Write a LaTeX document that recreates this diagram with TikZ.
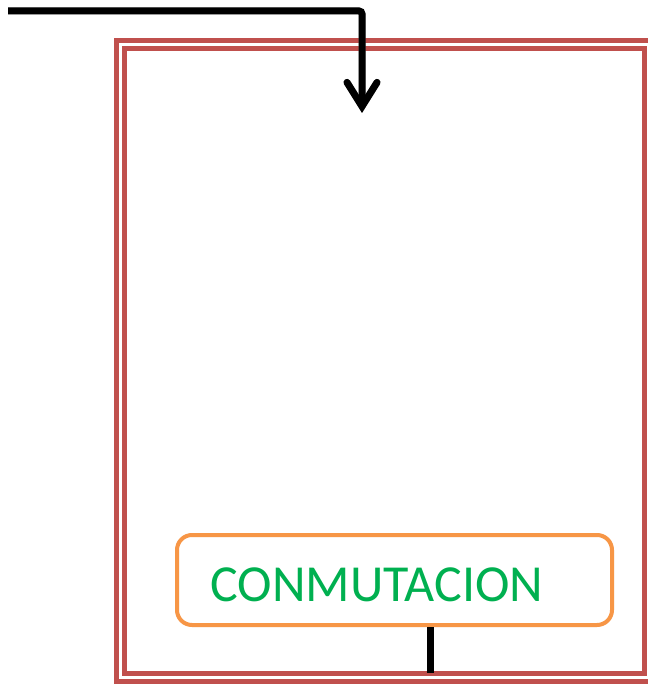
\documentclass[tikz,border=0pt]{standalone}
\usepackage{fontspec}
\setmainfont{Carlito}
\usetikzlibrary{arrows.meta}
\definecolor{boxred}{HTML}{C0504D}
\definecolor{boxorange}{HTML}{F79646}
\definecolor{textgreen}{HTML}{00B050}
\tikzset{
  frame/.style={draw=boxred, line width=5, fill=none},
  blockbox/.style={draw=boxorange, line width=4, rounded corners=15, fill=white, minimum width=435, minimum height=90, inner sep=0},
  blocktext/.style={text=textgreen, font=\fontsize{52}{52}\selectfont, inner sep=0, anchor=base},
  wire/.style={draw=black, line width=7},
  wireshadow/.style={draw=black!35, line width=7, opacity=0.5}
}
\begin{document}
\begin{tikzpicture}[x=1pt,y=-1pt]
\useasboundingbox (0,0) rectangle (647,684);
\fill[white] (0,0) rectangle (647,684);
% frames
\draw[frame] (116,41) rectangle (665,681);
\draw[frame] (124,49) rectangle (644,673);
% block
\node[blockbox] (conm) at (394.5,580) {};
\node[blocktext] (conmtext) at (377,601) {CONMUTACION};
% coordinates
\coordinate (start) at (8,11);
\coordinate (tip) at (362,113);
\coordinate (bot) at (430,673);
% shadows
\begin{scope}[shift={(2,3)}]
\draw[wireshadow, rounded corners=3, -{Straight Barb[length=24, width=30, line cap=round]}] (start) -| (tip);
\end{scope}
% wires
\draw[wire, rounded corners=3, -{Straight Barb[length=24, width=30, line cap=round]}] (start) -| (tip);
\draw[wire] (conm.south -| bot) -- (bot);
\end{tikzpicture}
\end{document}
